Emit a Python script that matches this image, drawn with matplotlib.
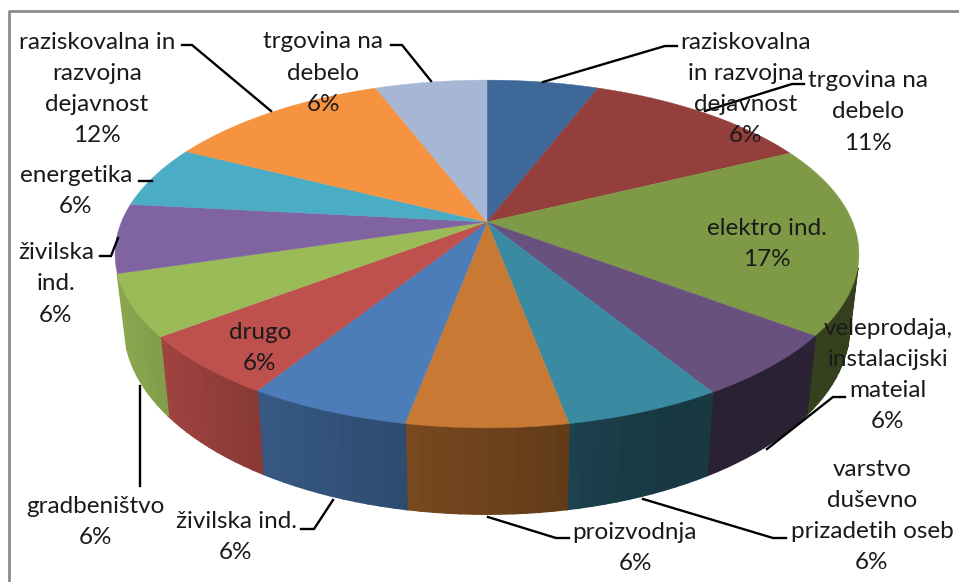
# 3D looking pie chart, drawn by hand because matplotlib has no perspective pie
import matplotlib
matplotlib.use('Agg')
import matplotlib.pyplot as plt
import numpy as np

plt.rcParams['font.family'] = ['Lato', 'DejaVu Sans']

# slice shares, clockwise from the top
shares = [5.8, 11.9, 17.6, 6.0, 5.76, 5.88, 5.96, 5.7, 5.7, 6.4, 5.8, 11.7, 5.8]
names = ['raziskovalna\nin razvojna\ndejavnost', 'trgovina na\ndebelo', 'elektro ind.',
         'veleprodaja,\ninstalacijski\nmateial', 'varstvo\nduševno\nprizadetih oseb',
         'proizvodnja', 'živilska ind.', 'drugo', 'gradbeništvo', 'živilska\nind.',
         'energetika', 'raziskovalna in\nrazvojna\ndejavnost', 'trgovina na\ndebelo']
percents = ['6%', '11%', '17%', '6%', '6%', '6%', '6%', '6%', '6%', '6%', '6%', '12%', '6%']
colors = ['#3E6898', '#953F3D', '#7E9A46', '#68517F', '#3A8AA2', '#C87934', '#4C7DB9',
          '#BE504D', '#9BBB59', '#8064A2', '#4BACC6', '#F59341', '#A6B6D4']

# where each label goes
label_pos = [(746, 89), (868, 112), (767, 244), (888, 375), (872, 516), (635, 548), (236, 537),
             (260, 348), (95, 522), (56, 284), (76, 191), (97, 89), (323, 73)]
leaders = [[(543, 82), (665, 46), (677, 46)], [(705, 111), (792, 84), (804, 84)], None,
           [(767, 449), (833, 397), (845, 397)], [(643, 499), (773, 538), (786, 538)],
           [(488, 517), (556, 538), (569, 538)], [(333, 500), (314, 529), (301, 529)], None,
           [(140, 386), (140, 486)], [(118, 238), (111, 256), (100, 256)],
           [(152, 181), (139, 181)], [(271, 111), (192, 45), (182, 45)],
           [(431, 81), (402, 45), (391, 45)]]

# perspective of the disc
cx, cy = 487, 222
rx, ry, persp = 365.6, 168, 0.184

# wall brightness against the angle
shade_angle = [90, 125, 140, 160, 175, 190, 210, 225, 240, 270]
shade_value = [0.40, 0.42, 0.40, 0.42, 0.52, 0.60, 0.70, 0.80, 0.87, 0.92]


def top_rim(theta):
    t = np.radians(theta)
    w = 1 + persp * np.cos(t)
    return cx + rx * np.sin(t) / w, cy - ry * np.cos(t) / w


def bottom_rim(theta):
    x, y = top_rim(theta)
    return cx + 0.975 * (x - cx), 1.08 * y + 52


fig = plt.figure(figsize=(9.59, 5.82), dpi=100)
ax = fig.add_axes([0, 0, 1, 1])
ax.set_xlim(0, 959)
ax.set_ylim(582, 0)
ax.axis('off')

# grey frame, open at the right and the bottom
ax.plot([8.5, 8.5, 959], [582, 10.5, 10.5], color='#8c8c8c', lw=2, zorder=1)

edges = np.concatenate([[0], np.cumsum(shares)]) * 3.6
rgb = [np.array(matplotlib.colors.to_rgb(c)) for c in colors]

# side wall first, only the part that can be seen
wall_from = 105
wall_to = edges[9]
for i in range(len(shares)):
    a0 = max(edges[i], wall_from)
    a1 = min(edges[i + 1], wall_to)
    if a1 <= a0:
        continue
    steps = np.linspace(a0, a1, 13)
    for a, b in zip(steps[:-1], steps[1:]):
        f = np.interp((a + b) / 2, shade_angle, shade_value)
        x0, y0 = top_rim(a)
        x1, y1 = top_rim(b)
        x2, y2 = bottom_rim(b)
        x3, y3 = bottom_rim(a)
        ax.fill([x0, x1, x2, x3], [y0, y1, y2, y3], color=rgb[i] * f, lw=1.2, zorder=2)

# top of the disc
for i in range(len(shares)):
    steps = np.linspace(edges[i], edges[i + 1], 60)
    xs, ys = top_rim(steps)
    ax.fill(np.r_[cx, xs], np.r_[cy, ys], color=colors[i], lw=0.3, zorder=3)

for line in leaders:
    if line is None:
        continue
    ax.plot([p[0] for p in line], [p[1] for p in line], color='black', lw=1.7,
            solid_joinstyle='miter', zorder=4)

for name, pct, pos in zip(names, percents, label_pos):
    ax.text(pos[0], pos[1], name + '\n' + pct, ha='center', va='center', fontsize=17.5,
            color='#1a1a1a', linespacing=1.6, zorder=5)

fig.savefig('out.png', dpi=100)
